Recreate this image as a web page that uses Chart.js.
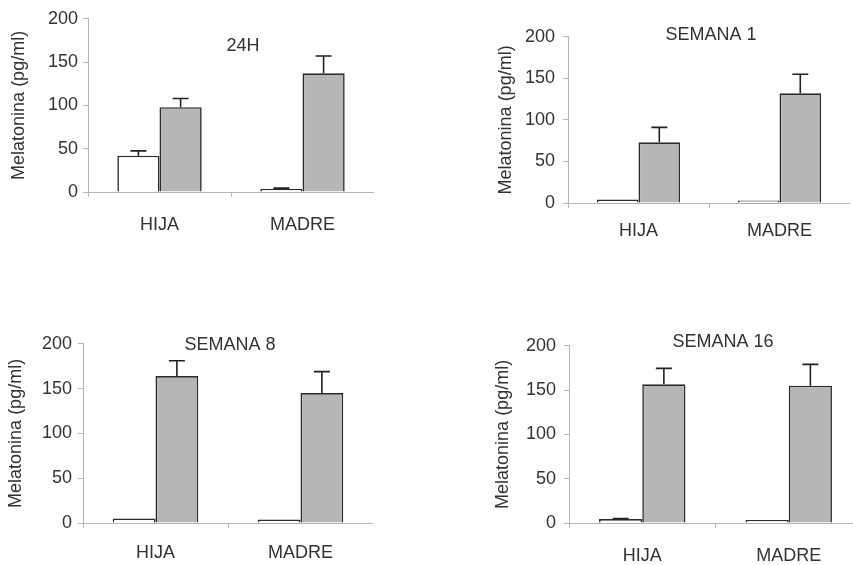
<!DOCTYPE html>
<html lang="es">
<head>
    <meta charset="UTF-8">
    <title>Melatonina - HIJA / MADRE</title>
    <script src="https://cdn.jsdelivr.net/npm/chart.js"></script>
    <style>
        html, body { margin: 0; padding: 0; background: #fff; overflow: hidden; }
        body { width: 853px; height: 565px; position: relative; }
        canvas { position: absolute; }
    </style>
</head>
<body>
    <canvas id="c1"></canvas>
    <canvas id="c2"></canvas>
    <canvas id="c3"></canvas>
    <canvas id="c4"></canvas>
    <script>
        // data (mean + upper SEM), white = open bars, gray = shaded bars
        const categories = ['HIJA', 'MADRE'];
        const panelTitles = ['24H', 'SEMANA 1', 'SEMANA 8', 'SEMANA 16'];
        const yAxisTitle = 'Melatonina (pg/ml)';

        const white24h = [42, 3.5];
        const whiteErr24h = [5.5, 1];
        const gray24h = [98, 137];
        const grayErr24h = [10, 20];

        const whiteSem1 = [4.3, 3];
        const whiteErrSem1 = [0, 0];
        const graySem1 = [73, 132];
        const grayErrSem1 = [18, 23];

        const whiteSem8 = [5, 4];
        const whiteErrSem8 = [0, 0];
        const graySem8 = [164, 145];
        const grayErrSem8 = [17, 24];

        const whiteSem16 = [4.4, 3.3];
        const whiteErrSem16 = [0.6, 0];
        const graySem16 = [156.5, 155];
        const grayErrSem16 = [18, 24];

        Chart.defaults.font.family = "'Liberation Sans', Arial, sans-serif";
        Chart.defaults.font.size = 18;
        Chart.defaults.color = '#333';

        const TOP_PAD = 14;
        const X_AXIS_H = 45;

        // page placement of each panel's plot area
        const panels = [
            { id: 'c1', title: panelTitles[0], white: white24h, whiteErr: whiteErr24h, gray: gray24h, grayErr: grayErr24h,
              area: { l: 88, r: 374, t: 17, b: 192 }, canvasLeft: 0, yTitleX: 19, yTickPad: 5, xTickPad: 17, titleX: 243, titleY: 46 },
            { id: 'c2', title: panelTitles[1], white: whiteSem1, whiteErr: whiteErrSem1, gray: graySem1, grayErr: grayErrSem1,
              area: { l: 568, r: 850, t: 32, b: 203 }, canvasLeft: 470, yTitleX: 506, yTickPad: 8, xTickPad: 12, titleX: 711, titleY: 35 },
            { id: 'c3', title: panelTitles[2], white: whiteSem8, whiteErr: whiteErrSem8, gray: graySem8, grayErr: grayErrSem8,
              area: { l: 83, r: 373, t: 341, b: 523 }, canvasLeft: 0, yTitleX: 16, yTickPad: 6, xTickPad: 14, titleX: 230, titleY: 345 },
            { id: 'c4', title: panelTitles[3], white: whiteSem16, whiteErr: whiteErrSem16, gray: graySem16, grayErr: grayErrSem16,
              area: { l: 569, r: 862, t: 341, b: 523 }, canvasLeft: 470, yTitleX: 503, yTickPad: 8, xTickPad: 17, titleX: 723, titleY: 342 }
        ];

        // upper error bars, drawn from each bar top through the y scale
        const errorBars = {
            id: 'errorBars',
            afterDatasetsDraw(chart) {
                const ctx = chart.ctx;
                const y = chart.scales.y;
                ctx.save();
                ctx.strokeStyle = '#222';
                ctx.lineWidth = 1.6;
                chart.data.datasets.forEach((ds, i) => {
                    const meta = chart.getDatasetMeta(i);
                    meta.data.forEach((bar, j) => {
                        const err = ds.errors[j];
                        if (!err) return;
                        const top = y.getPixelForValue(ds.data[j] + err);
                        ctx.beginPath();
                        ctx.moveTo(bar.x, bar.y);
                        ctx.lineTo(bar.x, top);
                        ctx.moveTo(bar.x - 8, top);
                        ctx.lineTo(bar.x + 8, top);
                        ctx.stroke();
                    });
                });
                ctx.restore();
            }
        };

        // panel title sits inside the plot area
        const panelTitle = {
            id: 'panelTitle',
            afterDraw(chart, args, opts) {
                const ctx = chart.ctx;
                ctx.save();
                ctx.font = "18px 'Liberation Sans', Arial, sans-serif";
                ctx.fillStyle = '#333';
                ctx.textAlign = 'center';
                ctx.textBaseline = 'middle';
                ctx.fillText(opts.text, opts.x, opts.y);
                ctx.restore();
            }
        };

        panels.forEach(p => {
            const canvas = document.getElementById(p.id);
            const top = p.area.t - TOP_PAD;
            const w = p.area.r - p.canvasLeft;
            const h = TOP_PAD + (p.area.b - p.area.t) + X_AXIS_H;
            canvas.width = w;
            canvas.height = h;
            canvas.style.left = p.canvasLeft + 'px';
            canvas.style.top = top + 'px';
            canvas.style.width = w + 'px';
            canvas.style.height = h + 'px';

            new Chart(canvas.getContext('2d'), {
                type: 'bar',
                data: {
                    labels: categories,
                    datasets: [
                        {
                            data: p.white,
                            errors: p.whiteErr,
                            backgroundColor: '#ffffff',
                            borderColor: '#2b2b2b',
                            borderWidth: 1.6
                        },
                        {
                            data: p.gray,
                            errors: p.grayErr,
                            backgroundColor: '#b6b6b6',
                            borderColor: '#2b2b2b',
                            borderWidth: 1.6
                        }
                    ]
                },
                options: {
                    responsive: false,
                    animation: false,
                    devicePixelRatio: 1,
                    layout: { padding: { top: TOP_PAD, left: 0, right: 0, bottom: 0 } },
                    categoryPercentage: 0.59,
                    barPercentage: 1.0,
                    plugins: {
                        legend: { display: false },
                        tooltip: { enabled: false },
                        panelTitle: { text: p.title, x: p.titleX - p.canvasLeft, y: p.titleY - top }
                    },
                    scales: {
                        x: {
                            grid: { display: true, drawOnChartArea: false, offset: true, tickLength: 5, color: '#b5b5b5' },
                            border: { color: '#b5b5b5', width: 1 },
                            ticks: { padding: p.xTickPad, color: '#333' },
                            afterFit(scale) { scale.height = X_AXIS_H; }
                        },
                        y: {
                            min: 0,
                            max: 200,
                            ticks: { stepSize: 50, padding: p.yTickPad, color: '#333' },
                            grid: { drawOnChartArea: false, tickLength: 5, color: '#b5b5b5' },
                            border: { color: '#b5b5b5', width: 1 },
                            title: {
                                display: true,
                                text: yAxisTitle,
                                color: '#333',
                                font: { size: 18 },
                                padding: { top: p.yTitleX - p.canvasLeft - 10.8, bottom: 0 }
                            },
                            afterFit(scale) { scale.width = p.area.l - p.canvasLeft; }
                        }
                    }
                },
                plugins: [errorBars, panelTitle]
            });
        });
    </script>
</body>
</html>
